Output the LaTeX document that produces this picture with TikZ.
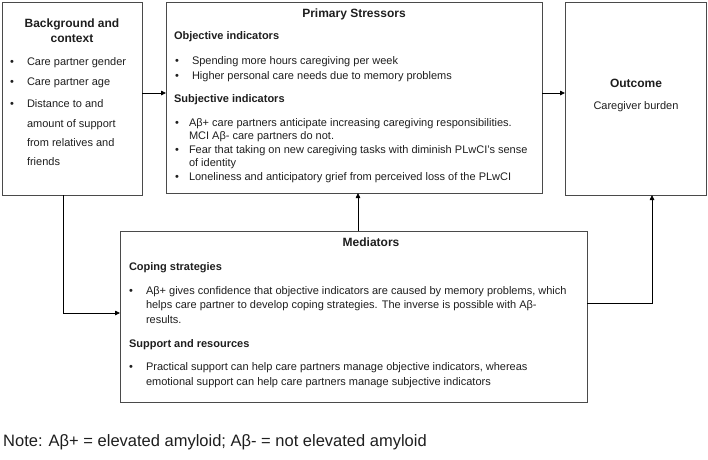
\documentclass[tikz,border=0pt]{standalone}
\usepackage{fontspec}
\setmainfont{Liberation Sans}
\usetikzlibrary{arrows.meta}
\definecolor{textc}{HTML}{1E1E1E}
\definecolor{linec}{HTML}{4A4A4A}
\newcommand{\bodyf}{\fontsize{11}{13}\selectfont}
\newcommand{\subf}{\fontsize{11}{13}\selectfont\bfseries}
\newcommand{\titf}{\fontsize{12}{14}\selectfont\bfseries}
\begin{document}
\begin{tikzpicture}[x=1pt,y=-1pt,
  box/.style={draw=linec, line width=0.9pt, rectangle, inner sep=0pt, outer sep=0pt},
  txt/.style={anchor=base west, inner sep=0pt, outer sep=0pt, font=\bodyf, text=textc},
  sub/.style={anchor=base west, inner sep=0pt, outer sep=0pt, font=\subf, text=textc},
  tit/.style={anchor=base, inner sep=0pt, outer sep=0pt, font=\titf, text=textc},
  ctxt/.style={anchor=base, inner sep=0pt, outer sep=0pt, font=\bodyf, text=textc},
  bul/.style={anchor=base, inner sep=0pt, outer sep=0pt, font=\bodyf, text=textc},
  arr/.style={-{Triangle[length=5pt,width=4.5pt]}, line width=0.8pt, draw=black}
]
\useasboundingbox (0,0) rectangle (708,459);
% boxes
\node[box, minimum width=140pt, minimum height=193pt] (bg) at (72,98.5) {};
\node[box, minimum width=376pt, minimum height=191pt] (ps) at (354,97.5) {};
\node[box, minimum width=141pt, minimum height=193pt] (oc) at (635.5,98.5) {};
\node[box, minimum width=467pt, minimum height=171pt] (md) at (353.5,316.5) {};

% background text
\node[tit] (bgt1) at (72,27) {Background and};
\node[tit] (bgt2) at (72,42) {context};
\node[bul] (bgb1) at (12,65) {•};
\node[txt] (bgl1) at (27,65) {Care partner gender};
\node[bul] (bgb2) at (12,85) {•};
\node[txt] (bgl2) at (27,85) {Care partner age};
\node[bul] (bgb3) at (12,107) {•};
\node[txt] (bgl3) at (27,107) {Distance to and};
\node[txt] (bgl4) at (27,127) {amount of support};
\node[txt] (bgl5) at (27,146) {from relatives and};
\node[txt] (bgl6) at (27,165) {friends};

% primary stressors text
\node[tit] (pst) at (354,17) {Primary Stressors};
\node[sub] (pss1) at (174,39) {Objective indicators};
\node[bul] (psb1) at (177,64) {•};
\node[txt] (psl1) at (192,64) {Spending more hours caregiving per week};
\node[bul] (psb2) at (177,79) {•};
\node[txt] (psl2) at (192,79) {Higher personal care needs due to memory problems};
\node[sub] (pss2) at (174,102) {Subjective indicators};
\node[bul] (psb3) at (177,126) {•};
\node[txt] (psl3) at (189,126) {Aβ+ care partners anticipate increasing caregiving responsibilities.};
\node[txt] (psl4) at (189,139) {MCI Aβ- care partners do not.};
\node[bul] (psb4) at (177,153) {•};
\node[txt] (psl5) at (189,153) {Fear that taking on new caregiving tasks with diminish PLwCI’s sense};
\node[txt] (psl6) at (189,166) {of identity};
\node[bul] (psb5) at (177,180) {•};
\node[txt] (psl7) at (189,180) {Loneliness and anticipatory grief from perceived loss of the PLwCI};

% outcome text
\node[tit] (oct) at (636,87) {Outcome};
\node[ctxt] (ocl) at (636,109) {Caregiver burden};

% mediators text
\node[tit] (mdt) at (371,246) {Mediators};
\node[sub] (mds1) at (129,270) {Coping strategies};
\node[bul] (mdb1) at (131,294) {•};
\node[txt] (mdl1) at (146,294) {Aβ+ gives confidence that objective indicators are caused by memory problems, which};
\node[txt] (mdl2) at (146,308) {helps care partner to develop coping strategies. The inverse is possible with Aβ-};
\node[txt] (mdl3) at (146,323) {results.};
\node[sub] (mds2) at (129,347) {Support and resources};
\node[bul] (mdb2) at (131,370) {•};
\node[txt] (mdl4) at (146,370) {Practical support can help care partners manage objective indicators, whereas};
\node[txt] (mdl5) at (146,385) {emotional support can help care partners manage subjective indicators};

% note
\node[anchor=base west, inner sep=0pt, font=\fontsize{16.5}{19}\selectfont, text=textc] (note) at (3,446) {Note: Aβ+ = elevated amyloid; Aβ- = not elevated amyloid};

% helper coordinates
\coordinate (ya) at (0,93);
\coordinate (xb) at (63,0);
\coordinate (yb) at (0,313);
\coordinate (xc) at (358,0);
\coordinate (yd) at (0,303);
\coordinate (xd) at (652,0);

% connectors
\draw[arr] (bg.east |- ya) -- (ps.west |- ya);
\draw[arr] (ps.east |- ya) -- (oc.west |- ya);
\draw[arr] (bg.south -| xb) |- (md.west |- yb);
\draw[arr] (md.north -| xc) -- (ps.south -| xc);
\draw[arr] (md.east |- yd) -| (oc.south -| xd);
\end{tikzpicture}
\end{document}
